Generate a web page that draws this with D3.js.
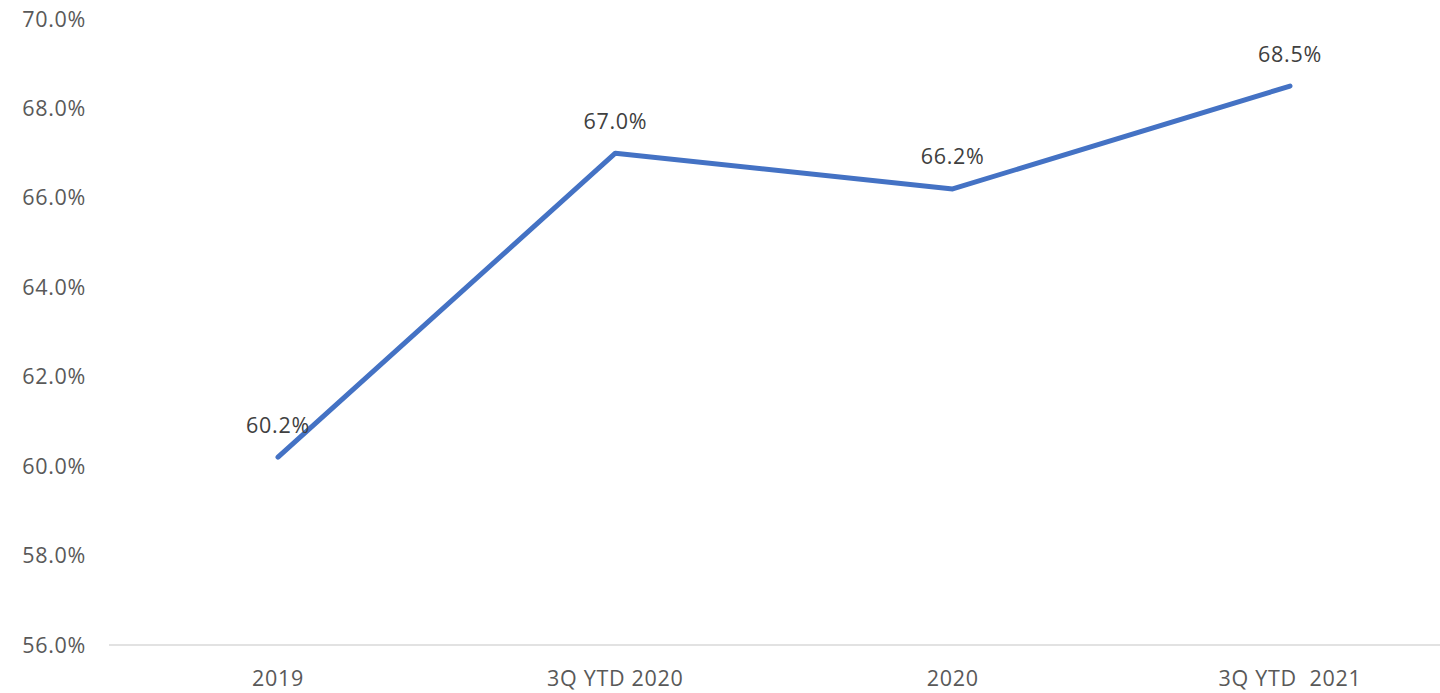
<!DOCTYPE html>
<html><head><meta charset="utf-8">
<script src="https://cdn.jsdelivr.net/npm/d3@7"></script>
<style>body{margin:0;background:#fff;} svg{display:block;}</style>
</head><body>
<svg id="c" width="1440" height="693"></svg>
<script>
const categories = ["2019", "3Q YTD 2020", "2020", "3Q YTD  2021"];
const values = [60.2, 67.0, 66.2, 68.5];
const yTicks = [56, 58, 60, 62, 64, 66, 68, 70];

const svg = d3.select("#c");
const font = "'Open Sans', sans-serif";
const fs = 21.5, ls = "0.7px";
const x = d3.scalePoint().domain(categories).range([278, 1290]);
const y = d3.scaleLinear().domain([56, 70]).range([645, 19]);

// x axis line
svg.append("line").attr("x1", 109).attr("x2", 1440).attr("y1", y(56)).attr("y2", y(56))
  .attr("stroke", "#d9d9d9").attr("stroke-width", 1.5);

// y tick labels
svg.append("g").selectAll("text").data(yTicks).join("text")
  .attr("x", 86).attr("y", d => y(d)).attr("dy", "0.35em")
  .attr("text-anchor", "end").attr("font-family", font).attr("font-size", fs)
  .attr("letter-spacing", ls)
  .attr("fill", "#595959").text(d => d.toFixed(1) + "%");

// x labels
svg.append("g").selectAll("text").data(categories).join("text")
  .attr("x", d => x(d)).attr("y", 678).attr("dy", "0.35em")
  .attr("text-anchor", "middle").attr("font-family", font).attr("font-size", fs)
  .attr("letter-spacing", ls)
  .attr("fill", "#595959").attr("xml:space", "preserve").style("white-space", "pre").text(d => d);

// line
const line = d3.line().x((d, i) => x(categories[i])).y(d => y(d));
svg.append("path").datum(values).attr("d", line).attr("fill", "none")
  .attr("stroke", "#4472C4").attr("stroke-width", 5)
  .attr("stroke-linecap", "round").attr("stroke-linejoin", "round");

// data labels
svg.append("g").selectAll("text").data(values).join("text")
  .attr("x", (d, i) => x(categories[i])).attr("y", d => y(d) - 32).attr("dy", "0.35em")
  .attr("text-anchor", "middle").attr("font-family", font).attr("font-size", fs)
  .attr("letter-spacing", ls)
  .attr("fill", "#404040").text(d => d.toFixed(1) + "%");
</script>
</body></html>
